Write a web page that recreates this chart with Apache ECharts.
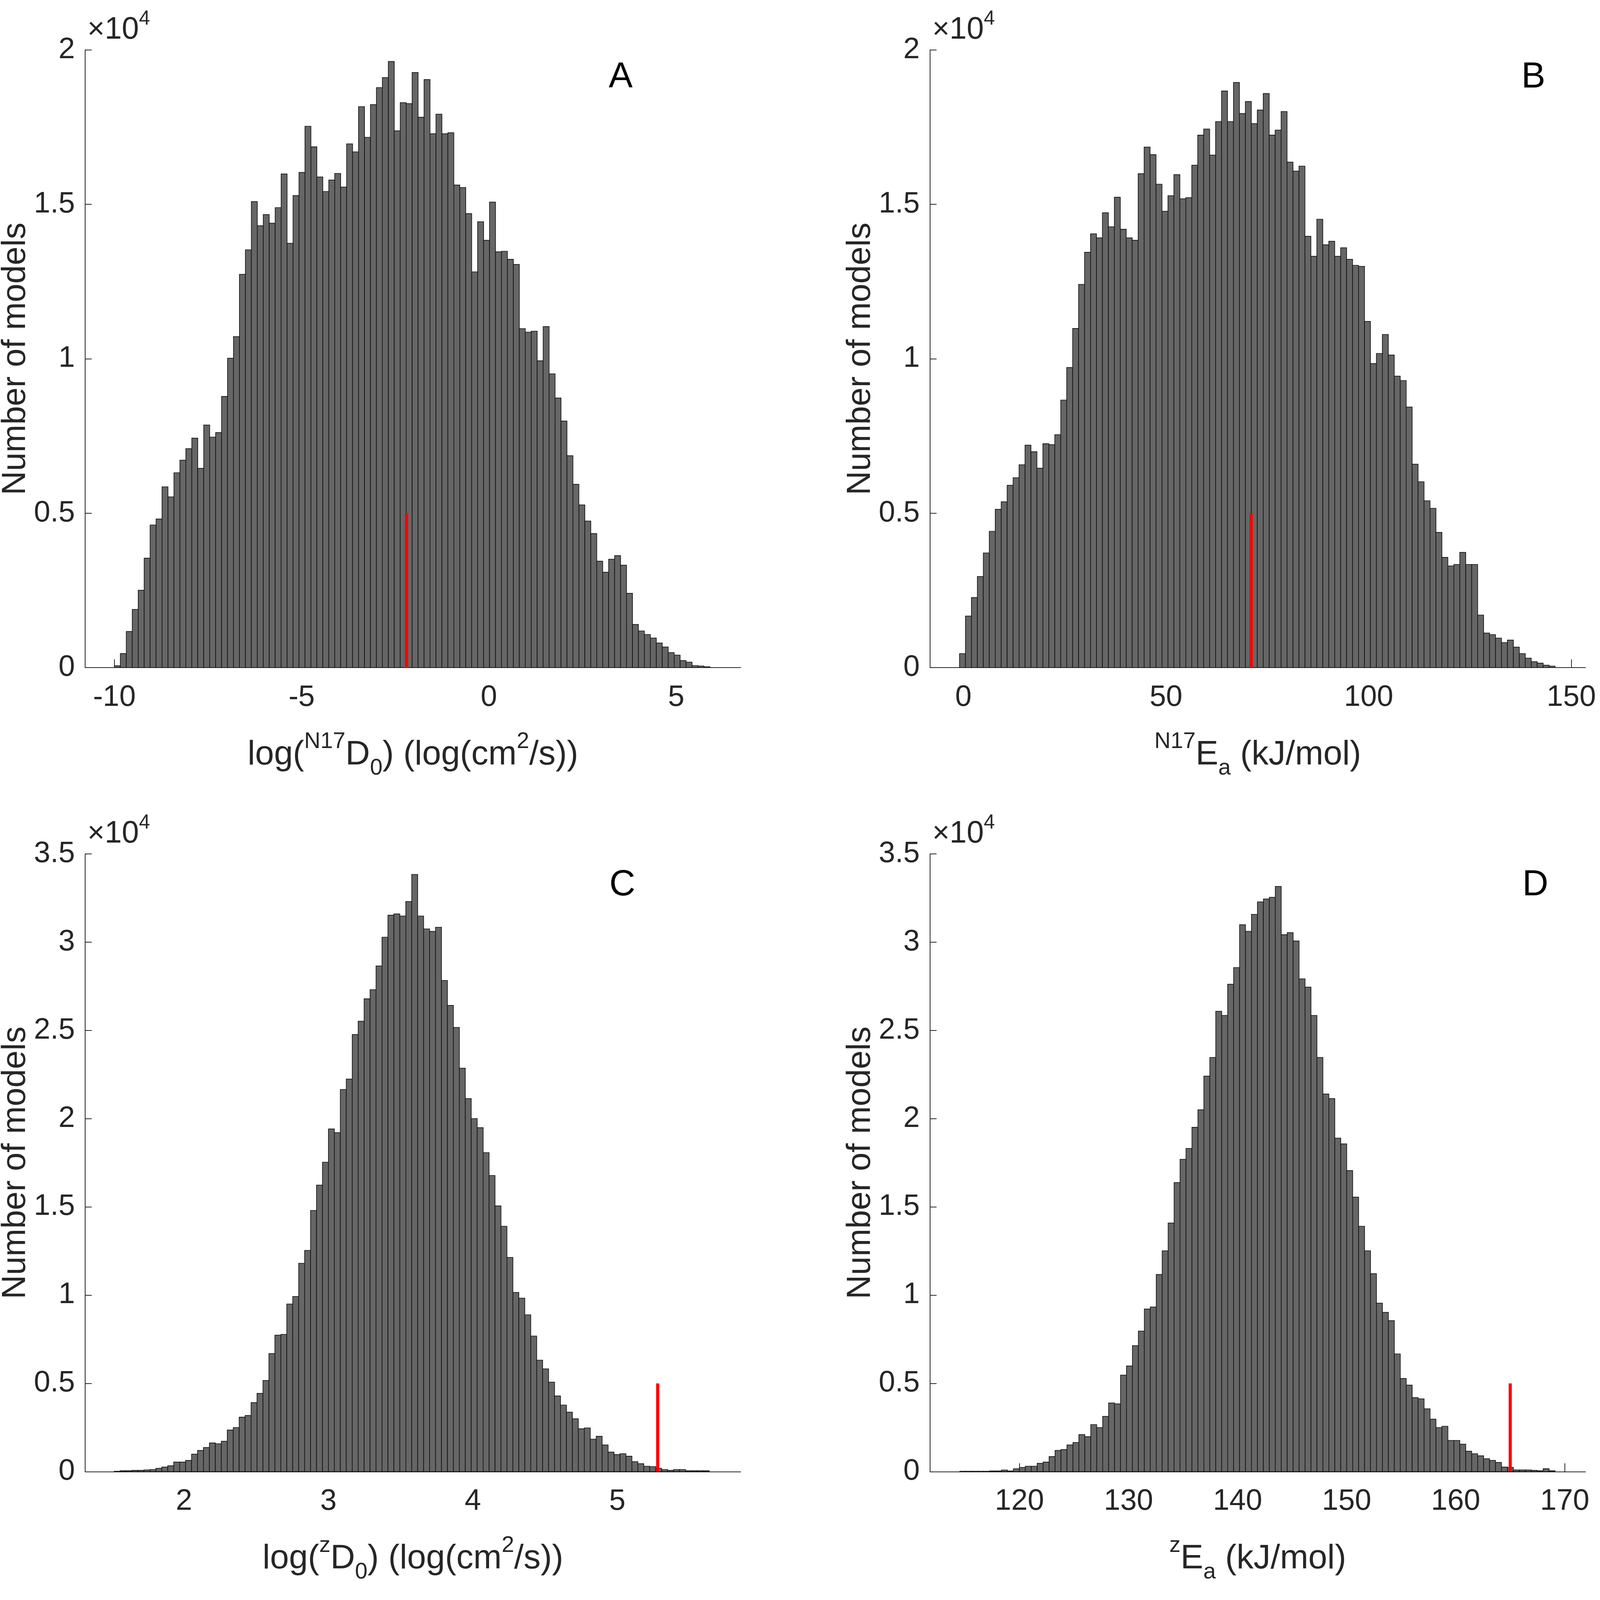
<!DOCTYPE html>
<html><head><meta charset="utf-8">
<script src="https://cdn.jsdelivr.net/npm/echarts@6/dist/echarts.min.js"></script>
<style>html,body{margin:0;padding:0;background:#fff;overflow:hidden}#c{width:100vw;height:100vh}</style>
</head><body><div id="c"></div>
<script>
// ---- data ----
const countsA = [60,455,1170,1886,2504,3545,4618,4813,5854,5528,
 6309,6715,7089,7431,6455,7854,7463,7610,8780,10016,
 10715,12732,13528,15089,14309,14667,14390,14894,15984,13740,
 15285,16033,17528,16862,15886,15415,15789,16000,15561,16959,
 16699,18163,17171,18228,18780,19106,19626,17382,18293,18260,
 19268,17821,19041,17285,17919,17285,17317,15626,15545,14699,
 12813,14439,13837,15073,13463,13480,13220,13057,10976,10862,
 10894,9935,11041,9512,8732,7984,6862,5935,5268,4748,
 4341,3447,3089,3512,3626,3317,2407,1398,1187,1073,
 959,797,667,488,407,228,179,65,50,30];
const countsB = [454,1671,2271,2952,3714,4412,5126,5369,5904,6148,
 6569,7202,6991,6456,7251,7218,7543,8662,9716,10981,
 12409,13447,14047,13917,14728,14274,15231,14193,13917,13836,
 15993,16853,16610,15653,14777,15280,15961,15182,15215,16269,
 17242,17437,16594,17680,18670,17680,18946,17940,18329,17616,
 18054,18589,17242,17404,18005,16366,16074,16237,13966,13317,
 14517,13690,13804,13317,13593,13220,13025,12993,11209,9846,
 10170,10787,10122,9440,9294,8435,6586,6018,5402,5158,
 4380,3569,3293,3341,3731,3341,3341,1703,1119,1071,
 957,811,892,665,454,308,195,146,81,49];
const countsC = [20,47,47,70,70,94,118,190,260,330,
 540,540,636,990,1200,1367,1626,1579,1720,2356,
 2498,3087,3181,3911,4430,5160,6692,7729,7776,9496,
 9920,11805,12535,14797,16235,17530,19416,19203,21654,22243,
 24764,25518,26791,27309,28652,30278,31527,31598,31480,32304,
 33836,31480,30749,30608,30843,27827,26414,25165,22856,21136,
 20005,19486,18073,16777,15056,13902,12135,10155,9826,8883,
 7681,6315,5820,5066,4288,3770,3369,2992,2427,2474,
 1838,2003,1508,1107,966,1013,872,566,448,306,
 283,189,118,70,118,118,47,47,47,47];
const countsD = [20,20,20,20,20,40,40,90,40,160,
 240,306,306,470,540,850,1200,1250,1508,1650,
 2097,1979,2663,2498,3134,3888,3841,5467,5985,7139,
 7964,9213,9331,11169,12512,14090,16376,17696,18308,19510,
 20500,22408,23468,26084,25848,27615,28558,30985,30608,31574,
 32281,32446,32540,33153,30419,30537,30066,27922,27450,25848,
 23468,21395,21136,18897,18567,17059,15551,13902,12512,11216,
 9543,9024,8553,6668,5278,4901,4194,4123,3558,2969,
 2498,2568,1767,1767,1555,1155,1013,895,730,636,
 518,259,236,94,94,94,70,47,165,47];

// histogram bin layout (first edge, bin width) for each panel
const binA = [-10.0, 0.159];
const binB = [-0.95, 1.4695];
const binC = [1.517, 0.0412];
const binD = [114.53, 0.5458];

// red marker positions (x value) and height
const redX = [-2.2, 71, 5.28, 165];
const redHeight = 5000;

// axis ranges and tick labels
const xRanges = [[-10.78, 6.72], [-8.22, 153.5], [1.316, 5.854], [111.8, 171.9]];
const xTicks = [[-10, -5, 0, 5], [0, 50, 100, 150], [2, 3, 4, 5], [120, 130, 140, 150, 160, 170]];
const yMax = [20000, 20000, 35000, 35000];
const yStep = 5000;
const panelLetters = ['A', 'B', 'C', 'D'];
const yName = 'Number of models';
const xNames = [
  '{m|log(}{sup|N17}{m|D}{sub|0}{m|) (log(cm}{sup|2}{m|/s))}',
  '{sup|N17}{m|E}{sub|a}{m| (kJ/mol)}',
  '{m|log(}{sup|z}{m|D}{sub|0}{m|) (log(cm}{sup|2}{m|/s))}',
  '{sup|z}{m|E}{sub|a}{m| (kJ/mol)}'
];

// ---- layout (designed for 5617 x 4424, stretched to the actual window) ----
const W = window.innerWidth, H = window.innerHeight;
const SX = W / 5617, SY = H / 4424, SF = Math.sqrt(SX * SY);
const FONT = 'Liberation Sans, Arial, Helvetica, sans-serif';
const AX = '#262626';
const gridPos = [[299, 138], [3265, 138], [299, 2361], [3265, 2361]];
const gridW = 2301, gridH = 1708;
const letterPos = [[2179, 215], [5383, 215], [2185, 2448], [5390, 2448]];
const yNamePos = [[56, 992], [3022, 992], [56, 3215], [3022, 3215]];

const counts = [countsA, countsB, countsC, countsD];
const bins = [binA, binB, binC, binD];

function histRender(params, api) {
  const a = api.coord([api.value(0), api.value(2)]);
  const b = api.coord([api.value(1), 0]);
  return {
    type: 'rect',
    shape: {x: a[0], y: a[1], width: b[0] - a[0], height: b[1] - a[1]},
    style: {fill: '#666666', stroke: '#111111', lineWidth: 2 * SF}
  };
}

const richName = {
  m: {fontSize: 106 * SF, fontFamily: FONT, color: AX, lineHeight: 140 * SY, verticalAlign: 'middle'},
  sup: {fontSize: 70 * SF, fontFamily: FONT, color: AX, lineHeight: 140 * SY, verticalAlign: 'middle', padding: [0, 0, 74 * SY, 0]},
  sub: {fontSize: 70 * SF, fontFamily: FONT, color: AX, lineHeight: 140 * SY, verticalAlign: 'middle', padding: [74 * SY, 0, 0, 0]}
};
const richExp = {
  t: {fontSize: 92 * SF, fontFamily: FONT, color: AX, lineHeight: 110 * SY, verticalAlign: 'middle'},
  n: {fontSize: 96 * SF, fontFamily: FONT, color: AX, lineHeight: 110 * SY, verticalAlign: 'middle'},
  e: {fontSize: 62 * SF, fontFamily: FONT, color: AX, lineHeight: 110 * SY, verticalAlign: 'middle', padding: [0, 0, 60 * SY, 0]}
};

const grid = [], xAxis = [], yAxis = [], series = [], graphic = [];
for (let k = 0; k < 4; k++) {
  grid.push({left: gridPos[k][0] * SX, top: gridPos[k][1] * SY, width: gridW * SX, height: gridH * SY, containLabel: false});
  xAxis.push({
    type: 'value', gridIndex: k, min: xRanges[k][0], max: xRanges[k][1],
    name: xNames[k], nameLocation: 'middle', nameGap: 172 * SY,
    nameTextStyle: {rich: richName},
    axisLine: {show: true, onZero: false, lineStyle: {color: AX, width: 2.5 * SF}},
    axisTick: {show: true, inside: true, length: 23 * SY, lineStyle: {color: AX, width: 2.5 * SF}, customValues: xTicks[k]},
    axisLabel: {show: true, customValues: xTicks[k], margin: 42 * SY, fontSize: 92 * SF, fontFamily: FONT, color: AX},
    splitLine: {show: false}
  });
  yAxis.push({
    type: 'value', gridIndex: k, min: 0, max: yMax[k], interval: yStep,
    name: '{t|×}{n|10}{e|4}', nameLocation: 'end', nameGap: 0,
    nameTextStyle: {rich: richExp, align: 'left', verticalAlign: 'bottom', padding: [0, 0, 0, 8 * SX]},
    axisLine: {show: true, onZero: false, lineStyle: {color: AX, width: 2.5 * SF}},
    axisTick: {show: true, inside: true, length: 23 * SX, lineStyle: {color: AX, width: 2.5 * SF}},
    axisLabel: {show: true, margin: 36 * SX, fontSize: 92 * SF, fontFamily: FONT, color: AX,
      formatter: v => String(v / 10000)},
    splitLine: {show: false}
  });
  const st = bins[k][0], w = bins[k][1];
  series.push({
    type: 'custom', xAxisIndex: k, yAxisIndex: k, renderItem: histRender,
    encode: {x: [0, 1], y: 2},
    data: counts[k].map((c, i) => [st + i * w, st + (i + 1) * w, c]),
    z: 2
  });
  series.push({
    type: 'line', xAxisIndex: k, yAxisIndex: k, symbol: 'none',
    data: [[redX[k], 0], [redX[k], redHeight]],
    lineStyle: {color: '#ff0000', width: 11 * SX, cap: 'butt'}, z: 5, silent: true
  });
  graphic.push({
    type: 'text', x: letterPos[k][0] * SX, y: letterPos[k][1] * SY,
    style: {text: panelLetters[k], fontSize: 112 * SF, fontFamily: FONT, fill: '#000',
      textAlign: 'center', textVerticalAlign: 'middle'}
  });
  graphic.push({
    type: 'text', x: yNamePos[k][0] * SX, y: yNamePos[k][1] * SY, rotation: Math.PI / 2,
    style: {text: yName, fontSize: 104 * SF, fontFamily: FONT, fill: AX,
      textAlign: 'center', textVerticalAlign: 'middle'}
  });
}

const el = document.getElementById('c');
el.style.width = W + 'px';
el.style.height = H + 'px';
const chart = echarts.init(el, null, {renderer: 'canvas'});
chart.setOption({animation: false, backgroundColor: '#ffffff', grid, xAxis, yAxis, series, graphic});
</script></body></html>
